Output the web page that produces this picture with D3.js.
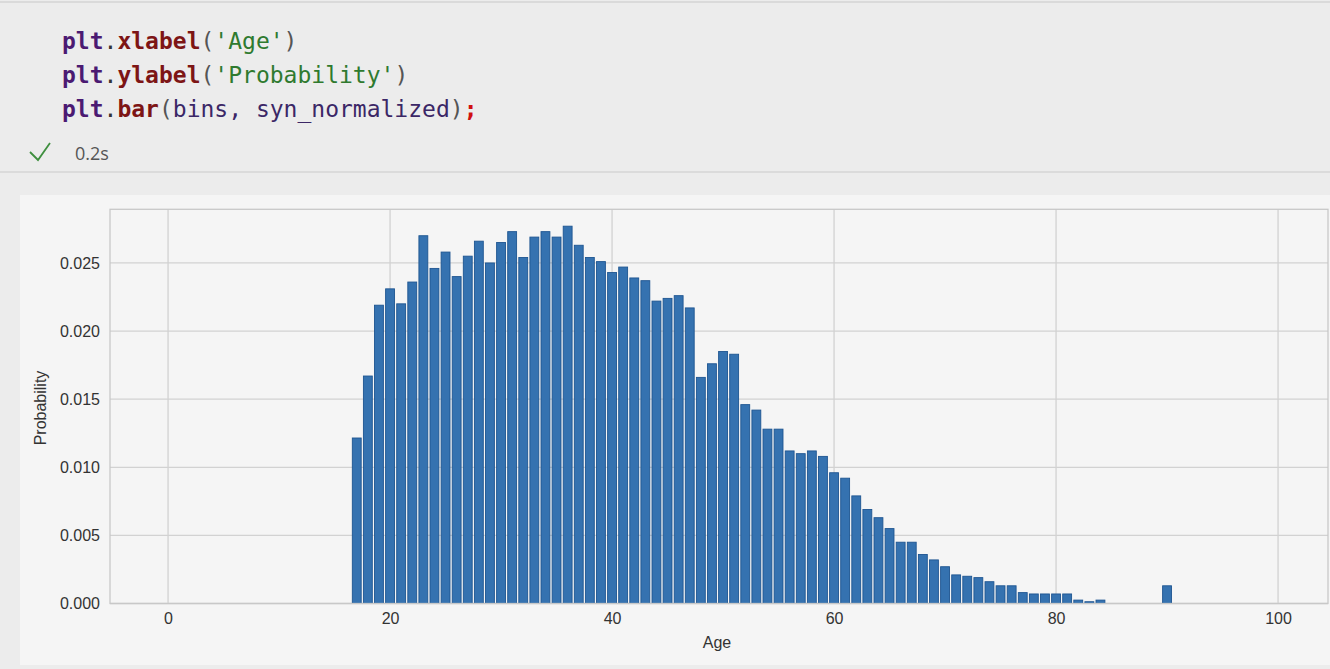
<!DOCTYPE html>
<html>
<head>
<meta charset="utf-8">
<script src="https://cdn.jsdelivr.net/npm/d3@7"></script>
<style>
  html, body { margin: 0; padding: 0; background: #ececec; }
  svg { display: block; }
</style>
</head>
<body>
<svg id="chart" width="1330" height="669"></svg>
<script>
// ---- data ----
const ages = [17,18,19,20,21,22,23,24,25,26,27,28,29,30,31,32,33,34,35,36,37,38,39,40,
  41,42,43,44,45,46,47,48,49,50,51,52,53,54,55,56,57,58,59,60,61,62,63,64,65,66,67,68,
  69,70,71,72,73,74,75,76,77,78,79,80,81,82,83,84,90];
const probability = [0.01215,0.0167,0.0219,0.0231,0.0220,0.0236,0.0270,0.0246,0.0258,0.0240,
  0.0255,0.0266,0.0250,0.0265,0.0273,0.0254,0.0269,0.0273,0.0269,0.0277,0.0263,0.0254,0.0251,
  0.0243,0.0247,0.0239,0.0237,0.0222,0.0224,0.0226,0.0217,0.0166,0.0176,0.0185,0.0183,0.0146,
  0.0142,0.0128,0.0128,0.0112,0.0110,0.0112,0.0108,0.0096,0.0092,0.0079,0.0069,0.0063,0.0055,
  0.0045,0.0045,0.0036,0.0032,0.0027,0.0021,0.0020,0.0019,0.0016,0.0013,0.0013,0.0008,0.0007,
  0.0007,0.0007,0.0007,0.00025,0.00013,0.00025,0.0013];
const xTicks = [0,20,40,60,80,100];
const yTicks = [0.000,0.005,0.010,0.015,0.020,0.025];
const codeLines = [
  [["plt","plt"],[".","dot"],["xlabel","fn"],["(","paren"],["'Age'","str"],[")","paren"]],
  [["plt","plt"],[".","dot"],["ylabel","fn"],["(","paren"],["'Probability'","str"],[")","paren"]],
  [["plt","plt"],[".","dot"],["bar","fn"],["(","paren"],["bins, syn_normalized","var"],[")","paren"],[";","semi"]]
];
const timing = "0.2s";

// ---- notebook chrome ----
const svg = d3.select("#chart");
svg.append("rect").attr("x",0).attr("y",0).attr("width",1330).attr("height",669).attr("fill","#ececec");
svg.append("line").attr("x1",0).attr("x2",1330).attr("y1",2).attr("y2",2).attr("stroke","#d4d4d4").attr("stroke-width",1.5);
svg.append("line").attr("x1",0).attr("x2",1330).attr("y1",172).attr("y2",172).attr("stroke","#d6d6d6").attr("stroke-width",1.5);

const styles = {
  plt:{fill:"#4b1a72",weight:"bold"}, dot:{fill:"#333",weight:"normal"},
  fn:{fill:"#7d1515",weight:"bold"}, paren:{fill:"#555",weight:"normal"},
  str:{fill:"#2f7a2f",weight:"normal"}, var:{fill:"#3b2766",weight:"normal"},
  semi:{fill:"#d01010",weight:"bold"}
};
codeLines.forEach((line,i)=>{
  const t = svg.append("text").attr("x",62).attr("y",49+i*34)
    .attr("font-family","'DejaVu Sans Mono', 'Liberation Mono', monospace")
    .attr("font-size",23).attr("xml:space","preserve");
  line.forEach(([txt,k])=>{
    t.append("tspan").text(txt).attr("fill",styles[k].fill).attr("font-weight",styles[k].weight);
  });
});
// checkmark
svg.append("path").attr("d","M30,152 L38,160 L50,143").attr("fill","none")
  .attr("stroke","#3f8f3f").attr("stroke-width",1.8);
svg.append("text").attr("x",75).attr("y",160).text(timing)
  .attr("font-family","'Open Sans', 'Noto Sans', sans-serif").attr("font-size",18).attr("fill","#555");

// ---- figure ----
svg.append("rect").attr("x",20).attr("y",195).attr("width",1310).attr("height",470).attr("fill","#f5f5f5");

const pLeft = 110, pRight = 1328, pTop = 209.3, pBottom = 603.5;
const x = d3.scaleLinear().domain([-5.23, 104.5]).range([pLeft, pRight]);
const y = d3.scaleLinear().domain([0, 0.02894]).range([pBottom, pTop]);

const g = svg.append("g");
// grid
g.selectAll(".vg").data(xTicks).join("line")
  .attr("x1",d=>x(d)).attr("x2",d=>x(d)).attr("y1",pTop).attr("y2",pBottom)
  .attr("stroke","#d2d2d2").attr("stroke-width",1.3);
g.selectAll(".hg").data(yTicks).join("line")
  .attr("x1",pLeft).attr("x2",pRight).attr("y1",d=>y(d)).attr("y2",d=>y(d))
  .attr("stroke","#d2d2d2").attr("stroke-width",1.3);

// bars
const bw = x(0.8) - x(0);
g.selectAll(".bar").data(ages.map((a,i)=>({a, v: probability[i]}))).join("rect")
  .attr("x",d=>x(d.a - 0.4)).attr("width",bw)
  .attr("y",d=>y(d.v)).attr("height",d=>pBottom - y(d.v))
  .attr("fill","#3572b0").attr("stroke","#1e5591").attr("stroke-width",0.9);

// frame
g.append("rect").attr("x",pLeft).attr("y",pTop).attr("width",pRight-pLeft).attr("height",pBottom-pTop)
  .attr("fill","none").attr("stroke","#c8c8c8").attr("stroke-width",1.3);

// axes (labels via d3 axis)
const xAxis = d3.axisBottom(x).tickValues(xTicks).tickFormat(d3.format("d")).tickSize(0).tickPadding(9);
const ax = svg.append("g").attr("transform",`translate(0,${pBottom})`).call(xAxis);
ax.select(".domain").remove();
ax.selectAll("text").attr("font-family","'Liberation Sans', Arial, sans-serif").attr("font-size",16).attr("fill","#333");

const yAxis = d3.axisLeft(y).tickValues(yTicks).tickFormat(d3.format(".3f")).tickSize(0).tickPadding(10);
const ay = svg.append("g").attr("transform",`translate(${pLeft},0)`).call(yAxis);
ay.select(".domain").remove();
ay.selectAll("text").attr("font-family","'Liberation Sans', Arial, sans-serif").attr("font-size",16).attr("fill","#333");

svg.append("text").attr("x",717).attr("y",648).attr("text-anchor","middle")
  .attr("font-family","'Liberation Sans', Arial, sans-serif").attr("font-size",16).attr("fill","#333").text("Age");
svg.append("text").attr("transform","translate(46,408) rotate(-90)").attr("text-anchor","middle")
  .attr("font-family","'Liberation Sans', Arial, sans-serif").attr("font-size",16).attr("fill","#333").text("Probability");
</script>
</body>
</html>
